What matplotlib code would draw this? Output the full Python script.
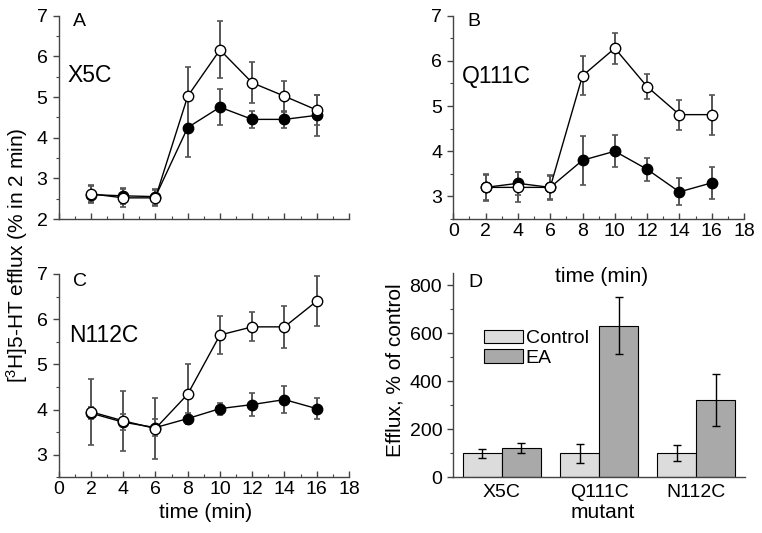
import matplotlib
matplotlib.use("Agg")
import matplotlib.pyplot as plt
from matplotlib.ticker import MultipleLocator
from matplotlib.patches import Patch
import numpy as np

plt.rcParams['font.family'] = ['Liberation Sans', 'DejaVu Sans']

# ---- data ----
time = [2, 4, 6, 8, 10, 12, 14, 16]

A_ctrl = [2.60, 2.57, 2.55, 4.25, 4.75, 4.45, 4.45, 4.55]
A_ctrl_err = [0.20, 0.20, 0.20, 0.72, 0.44, 0.21, 0.20, 0.50]
A_ea = [2.62, 2.52, 2.52, 5.02, 6.16, 5.35, 5.02, 4.68]
A_ea_err = [0.21, 0.22, 0.20, 0.71, 0.70, 0.50, 0.38, 0.38]

B_ctrl = [3.20, 3.29, 3.20, 3.80, 4.00, 3.60, 3.10, 3.30]
B_ctrl_err = [0.28, 0.25, 0.26, 0.54, 0.36, 0.25, 0.30, 0.36]
B_ea = [3.20, 3.20, 3.20, 5.67, 6.28, 5.43, 4.81, 4.81]
B_ea_err = [0.30, 0.33, 0.28, 0.43, 0.34, 0.28, 0.33, 0.44]

C_ctrl = [3.92, 3.72, 3.60, 3.80, 4.02, 4.11, 4.22, 4.02]
C_ctrl_err = [0.14, 0.18, 0.18, 0.13, 0.13, 0.25, 0.29, 0.23]
C_ea = [3.95, 3.75, 3.58, 4.34, 5.65, 5.83, 5.83, 6.40]
C_ea_err = [0.73, 0.66, 0.68, 0.66, 0.43, 0.32, 0.47, 0.55]

mutants = ['X5C', 'Q111C', 'N112C']
D_ctrl = [100, 100, 100]
D_ctrl_err = [18, 40, 33]
D_ea = [122, 632, 323]
D_ea_err = [20, 120, 108]

W, H = 762, 533
fig = plt.figure(figsize=(W / 100, H / 100), dpi=100)

def rect(l, r, t, b):
    return [l / W, 1 - b / H, (r - l) / W, (b - t) / H]

axA = fig.add_axes(rect(58.7, 349, 15.7, 219))
axB = fig.add_axes(rect(453.3, 744, 15.7, 219))
axC = fig.add_axes(rect(58.7, 349, 274, 477.3))
axD = fig.add_axes(rect(453.3, 745, 273.3, 477.3))

spc = '#444444'
errc = '#555555'
TICK = 14

def style(ax):
    for s in ['top', 'right']:
        ax.spines[s].set_visible(False)
    for s in ['left', 'bottom']:
        ax.spines[s].set_color(spc)
        ax.spines[s].set_linewidth(1.0)
    ax.tick_params(axis='y', which='major', direction='out', length=4, width=1,
                   color=spc, labelsize=TICK, pad=4)
    ax.tick_params(axis='y', which='minor', direction='out', length=2.5, width=0.8, color=spc)
    ax.tick_params(axis='x', which='major', direction='in', length=4, width=1,
                   color=spc, labelsize=TICK, pad=3)
    ax.tick_params(axis='x', which='minor', direction='in', length=2.5, width=0.8, color=spc)

def series(ax, ctrl, ctrl_err, ea, ea_err):
    ax.errorbar(time, ctrl, yerr=ctrl_err, fmt='none', ecolor=errc, elinewidth=1.4,
                capsize=2.5, capthick=1.2, zorder=2)
    ax.errorbar(time, ea, yerr=ea_err, fmt='none', ecolor=errc, elinewidth=1.4,
                capsize=2.5, capthick=1.2, zorder=2)
    ax.plot(time, ctrl, '-', color='black', lw=1.0, zorder=3)
    ax.plot(time, ctrl, 'o', color='black', ms=7.5, mec='black', zorder=4)
    ax.plot(time, ea, '-', color='black', lw=1.0, zorder=5)
    ax.plot(time, ea, 'o', mfc='white', mec='black', mew=1.0, ms=7.5, zorder=6)
    ax.set_xlim(0, 18)
    ax.xaxis.set_major_locator(MultipleLocator(2))
    ax.xaxis.set_minor_locator(MultipleLocator(1))
    ax.yaxis.set_major_locator(MultipleLocator(1))
    ax.yaxis.set_minor_locator(MultipleLocator(0.5))
    style(ax)

series(axA, A_ctrl, A_ctrl_err, A_ea, A_ea_err)
axA.set_ylim(2, 7)
axA.tick_params(axis='x', labelbottom=False)

series(axB, B_ctrl, B_ctrl_err, B_ea, B_ea_err)
axB.set_ylim(2.5, 7)

series(axC, C_ctrl, C_ctrl_err, C_ea, C_ea_err)
axC.set_ylim(2.5, 7)

# ---- bar panel ----
x = np.arange(len(mutants))
bw = 0.4
axD.bar(x - bw / 2, D_ctrl, bw, color='#dcdcdc', edgecolor='black', linewidth=0.8, zorder=2)
axD.bar(x + bw / 2, D_ea, bw, color='#a9a9a9', edgecolor='black', linewidth=0.8, zorder=2)
axD.errorbar(x - bw / 2, D_ctrl, yerr=D_ctrl_err, fmt='none', ecolor='black',
             elinewidth=1.0, capsize=3, capthick=1.0, zorder=3)
axD.errorbar(x + bw / 2, D_ea, yerr=D_ea_err, fmt='none', ecolor='black',
             elinewidth=1.0, capsize=3, capthick=1.0, zorder=3)
axD.set_xlim(-0.5, 2.5)
axD.set_ylim(0, 850)
axD.set_xticks(x)
axD.set_xticklabels(mutants)
axD.yaxis.set_major_locator(MultipleLocator(200))
axD.yaxis.set_minor_locator(MultipleLocator(100))
style(axD)
axD.tick_params(axis='x', which='major', length=0, pad=5)

leg = axD.legend(handles=[Patch(facecolor='#dcdcdc', edgecolor='black', linewidth=0.8, label='Control'),
                          Patch(facecolor='#a9a9a9', edgecolor='black', linewidth=0.8, label='EA')],
                 loc='upper left', bbox_to_anchor=(0.105, 0.7235), frameon=False,
                 borderpad=0, borderaxespad=0, fontsize=14, handlelength=2.0,
                 handleheight=0.7, handletextpad=0.15, labelspacing=0.1)

# ---- texts ----
def ftext(px, py, s, **kw):
    fig.text(px / W, 1 - py / H, s, **kw)

ftext(73, 25.7, 'A', fontsize=14, va='baseline', ha='left')
ftext(67, 82, 'X5C', fontsize=16.5, va='baseline', ha='left')
ftext(467, 25.7, 'B', fontsize=14, va='baseline', ha='left')
ftext(462, 82.5, 'Q111C', fontsize=16.5, va='baseline', ha='left')
ftext(73, 286, 'C', fontsize=14, va='baseline', ha='left')
ftext(69, 341.7, 'N112C', fontsize=16.5, va='baseline', ha='left')
ftext(468, 286.7, 'D', fontsize=14, va='baseline', ha='left')

ftext(601.7, 282.5, 'time (min)', fontsize=15, va='baseline', ha='center')
ftext(206, 518.5, 'time (min)', fontsize=15, va='baseline', ha='center')
ftext(603, 518.5, 'mutant', fontsize=15, va='baseline', ha='center')
ftext(17, 255, r'[$\mathregular{^3}$H]5-HT efflux (% in 2 min)', fontsize=15,
      va='center', ha='center', rotation=90)
ftext(395, 370, 'Efflux, % of control', fontsize=15, va='center', ha='center', rotation=90)

fig.savefig('out.png', dpi=100)
